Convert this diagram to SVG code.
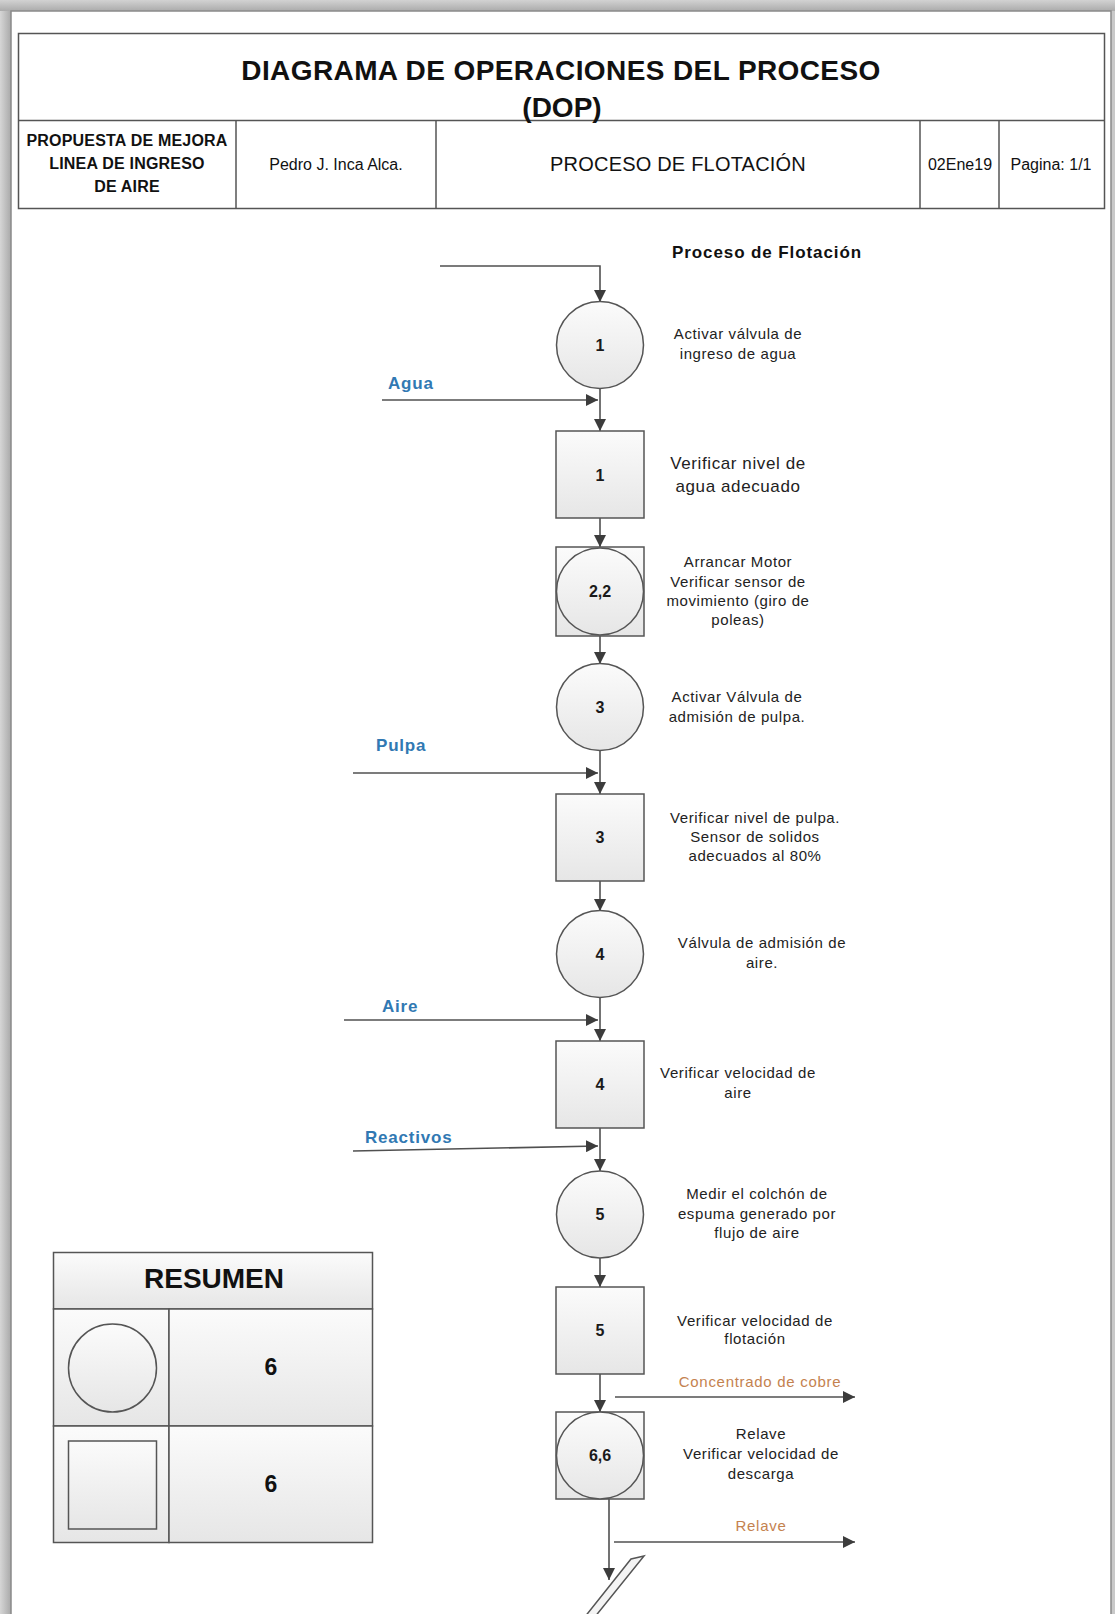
<svg xmlns="http://www.w3.org/2000/svg" width="1115" height="1614" viewBox="0 0 1115 1614">
<defs>
  <linearGradient id="g" x1="0" y1="0" x2="0" y2="1">
    <stop offset="0" stop-color="#fbfbfb"/>
    <stop offset="1" stop-color="#e6e6e6"/>
  </linearGradient>
  <linearGradient id="shL" x1="0" y1="0" x2="1" y2="0">
    <stop offset="0" stop-color="#d6d6d6"/>
    <stop offset="1" stop-color="#a9a9a9"/>
  </linearGradient>
  <linearGradient id="shT" x1="0" y1="0" x2="0" y2="1">
    <stop offset="0" stop-color="#d2d2d2"/>
    <stop offset="1" stop-color="#ababab"/>
  </linearGradient>
  <marker id="ah" viewBox="0 0 12 12" refX="12" refY="6" markerWidth="12" markerHeight="12" markerUnits="userSpaceOnUse" orient="auto">
    <path d="M0,0 L12,6 L0,12 z" fill="#3c3c3c"/>
  </marker>
</defs>
<style>
  .ln{stroke:#505050;stroke-width:1.6;fill:none}
  .nd{fill:url(#g);stroke:#555;stroke-width:1.5}
  .hd{fill:none;stroke:#555;stroke-width:1.5}
  .num{font-family:"Liberation Sans",Arial,sans-serif;font-weight:bold;font-size:16px;fill:#1a1a1a;text-anchor:middle}
  .lbl{font-family:"Liberation Sans",Arial,sans-serif;font-size:15px;fill:#222;text-anchor:middle;letter-spacing:0.6px}
  .big{font-size:17px}
  .in{font-family:"Liberation Sans",Arial,sans-serif;font-weight:bold;font-size:17px;fill:#3179b3;letter-spacing:0.8px}
  .out{font-family:"Liberation Sans",Arial,sans-serif;font-size:15px;fill:#c4824f;text-anchor:middle;letter-spacing:0.7px}
  .t{font-family:"Liberation Sans",Arial,sans-serif;fill:#111;text-anchor:middle}
</style>

<!-- page background / frame -->
<rect x="0" y="0" width="1115" height="1614" fill="#c9c9c9"/>
<rect x="0" y="0" width="11" height="1614" fill="url(#shL)"/>
<rect x="0" y="0" width="1115" height="11" fill="url(#shT)"/>
<rect x="11" y="11" width="1100" height="1620" fill="#ffffff" stroke="#8a8a8a" stroke-width="1.5"/>

<!-- header -->
<g id="header">
  <rect class="hd" x="18.5" y="33.5" width="1086" height="175"/>
  <line class="hd" x1="18.5" y1="120.5" x2="1104.5" y2="120.5"/>
  <line class="hd" x1="236" y1="120.5" x2="236" y2="208.5"/>
  <line class="hd" x1="436" y1="120.5" x2="436" y2="208.5"/>
  <line class="hd" x1="920" y1="120.5" x2="920" y2="208.5"/>
  <line class="hd" x1="999" y1="120.5" x2="999" y2="208.5"/>
  <text class="t" x="561" y="80" font-size="28" font-weight="bold" letter-spacing="0.4">DIAGRAMA DE OPERACIONES DEL PROCESO</text>
  <text class="t" x="562" y="117" font-size="28" font-weight="bold">(DOP)</text>
  <text class="t" x="127" font-size="16" font-weight="bold" letter-spacing="0.2"><tspan x="127" y="146">PROPUESTA DE MEJORA</tspan><tspan x="127" y="169">LINEA DE INGRESO</tspan><tspan x="127" y="192">DE AIRE</tspan></text>
  <text class="t" x="336" y="170" font-size="16">Pedro J. Inca Alca.</text>
  <text class="t" x="678" y="171" font-size="20" letter-spacing="0.2">PROCESO DE FLOTACIÓN</text>
  <text class="t" x="960" y="170" font-size="16">02Ene19</text>
  <text class="t" x="1051" y="170" font-size="16">Pagina: 1/1</text>
</g>

<text id="title-proceso" class="t" x="767" y="258" font-size="17" font-weight="bold" letter-spacing="0.9">Proceso de Flotación</text>

<!-- connectors -->
<g id="connectors">
  <path class="ln" d="M440,266 H600 V302" marker-end="url(#ah)"/>
  <path class="ln" d="M600,388 V431" marker-end="url(#ah)"/>
  <path class="ln" d="M382,400 H598" marker-end="url(#ah)"/>
  <path class="ln" d="M600,518 V547" marker-end="url(#ah)"/>
  <path class="ln" d="M600,636 V664" marker-end="url(#ah)"/>
  <path class="ln" d="M600,750 V794" marker-end="url(#ah)"/>
  <path class="ln" d="M353,773 H598" marker-end="url(#ah)"/>
  <path class="ln" d="M600,881 V911" marker-end="url(#ah)"/>
  <path class="ln" d="M600,997 V1041" marker-end="url(#ah)"/>
  <path class="ln" d="M344,1020 H598" marker-end="url(#ah)"/>
  <path class="ln" d="M600,1128 V1171" marker-end="url(#ah)"/>
  <path class="ln" d="M353,1151 L598,1146" marker-end="url(#ah)"/>
  <path class="ln" d="M600,1258 V1287" marker-end="url(#ah)"/>
  <path class="ln" d="M600,1374 V1412" marker-end="url(#ah)"/>
  <path class="ln" d="M615,1397 H855" marker-end="url(#ah)"/>
  <path class="ln" d="M609,1499 V1580" marker-end="url(#ah)"/>
  <path class="ln" d="M614,1542 H855" marker-end="url(#ah)"/>
  <text class="in" x="388" y="389">Agua</text>
  <text class="in" x="376" y="751">Pulpa</text>
  <text class="in" x="382" y="1012">Aire</text>
  <text class="in" x="365" y="1143">Reactivos</text>
  <text class="out" x="760" y="1387">Concentrado de cobre</text>
  <text class="out" x="761" y="1531">Relave</text>
</g>

<!-- nodes -->
<g id="op1">
  <circle class="nd" cx="600" cy="345" r="43.5"/>
  <text class="num" x="600" y="351">1</text>
  <text class="lbl"><tspan x="738" y="339">Activar válvula de</tspan><tspan x="738" y="359">ingreso de agua</tspan></text>
</g>
<g id="insp1">
  <rect class="nd" x="556" y="431" width="88" height="87"/>
  <text class="num" x="600" y="481">1</text>
  <text class="lbl big"><tspan x="738" y="469">Verificar nivel de</tspan><tspan x="738" y="492">agua adecuado</tspan></text>
</g>
<g id="comb2">
  <rect class="nd" x="556" y="547" width="88" height="89"/>
  <circle class="nd" cx="600" cy="591.5" r="43.5"/>
  <text class="num" x="600" y="597">2,2</text>
  <text class="lbl"><tspan x="738" y="567">Arrancar Motor</tspan><tspan x="738" y="587">Verificar sensor de</tspan><tspan x="738" y="606">movimiento (giro de</tspan><tspan x="738" y="625">poleas)</tspan></text>
</g>
<g id="op3">
  <circle class="nd" cx="600" cy="707" r="43.5"/>
  <text class="num" x="600" y="713">3</text>
  <text class="lbl"><tspan x="737" y="702">Activar Válvula de</tspan><tspan x="737" y="722">admisión de pulpa.</tspan></text>
</g>
<g id="insp3">
  <rect class="nd" x="556" y="794" width="88" height="87"/>
  <text class="num" x="600" y="843">3</text>
  <text class="lbl"><tspan x="755" y="823">Verificar nivel de pulpa.</tspan><tspan x="755" y="842">Sensor de solidos</tspan><tspan x="755" y="861">adecuados al 80%</tspan></text>
</g>
<g id="op4">
  <circle class="nd" cx="600" cy="954" r="43.5"/>
  <text class="num" x="600" y="960">4</text>
  <text class="lbl"><tspan x="762" y="948">Válvula de admisión de</tspan><tspan x="762" y="968">aire.</tspan></text>
</g>
<g id="insp4">
  <rect class="nd" x="556" y="1041" width="88" height="87"/>
  <text class="num" x="600" y="1090">4</text>
  <text class="lbl"><tspan x="738" y="1078">Verificar velocidad de</tspan><tspan x="738" y="1098">aire</tspan></text>
</g>
<g id="op5">
  <circle class="nd" cx="600" cy="1214.5" r="43.5"/>
  <text class="num" x="600" y="1220">5</text>
  <text class="lbl"><tspan x="757" y="1199">Medir el colchón de</tspan><tspan x="757" y="1219">espuma generado por</tspan><tspan x="757" y="1238">flujo de aire</tspan></text>
</g>
<g id="insp5">
  <rect class="nd" x="556" y="1287" width="88" height="87"/>
  <text class="num" x="600" y="1336">5</text>
  <text class="lbl"><tspan x="755" y="1326">Verificar velocidad de</tspan><tspan x="755" y="1344">flotación</tspan></text>
</g>
<g id="comb6">
  <rect class="nd" x="556" y="1412" width="88" height="87"/>
  <circle class="nd" cx="600" cy="1455.5" r="43.5"/>
  <text class="num" x="600" y="1461">6,6</text>
  <text class="lbl"><tspan x="761" y="1439">Relave</tspan><tspan x="761" y="1459">Verificar velocidad de</tspan><tspan x="761" y="1479">descarga</tspan></text>
</g>
<g id="storage">
  <polygon points="631,1559 644,1556 594,1618 584,1618" fill="#f4f4f4" stroke="#555" stroke-width="1.5"/>
</g>

<!-- summary table -->
<g id="resumen">
  <rect class="nd" x="53.5" y="1252.5" width="319" height="56.5"/>
  <rect class="nd" x="53.5" y="1309" width="115.5" height="117"/>
  <rect class="nd" x="169" y="1309" width="203.5" height="117"/>
  <rect class="nd" x="53.5" y="1426" width="115.5" height="116.5"/>
  <rect class="nd" x="169" y="1426" width="203.5" height="116.5"/>
  <circle class="nd" cx="112.5" cy="1368" r="44"/>
  <rect class="nd" x="68.5" y="1441" width="88" height="88"/>
  <text class="t" x="214" y="1288" font-size="28" font-weight="bold">RESUMEN</text>
  <text class="t" x="271" y="1375" font-size="23" font-weight="bold">6</text>
  <text class="t" x="271" y="1492" font-size="23" font-weight="bold">6</text>
</g>
</svg>
